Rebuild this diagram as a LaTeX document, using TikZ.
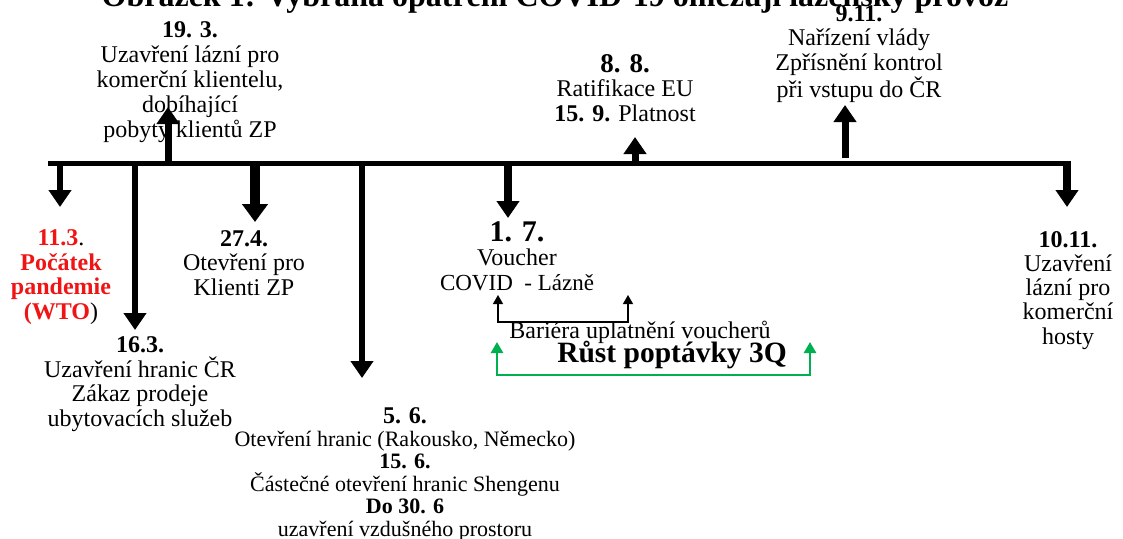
\documentclass[tikz,border=0pt]{standalone}
\usepackage{fontspec}
\setmainfont{Liberation Serif}
\usetikzlibrary{arrows.meta,positioning}

\definecolor{startred}{RGB}{240,20,20}
\definecolor{growgreen}{RGB}{0,176,80}
\newcommand{\fsz}[2]{\fontsize{#1}{#2}\selectfont}

\begin{document}
\begin{tikzpicture}[
    x=1pt,y=-1pt,
    note/.style={align=center,inner sep=0pt,anchor=base,font=\fsz{24}{24.5}},
    heading/.style={note,font=\fsz{32}{34}\bfseries},
    timeaxis/.style={line width=5pt},
    tick/.style={line width=7pt,-{Triangle[width=22pt,length=17pt]}},
    tickwide/.style={line width=10pt,-{Triangle[width=25pt,length=18pt]}},
    barbracket/.style={line width=1.2pt,{Triangle[width=10pt,length=9pt]}-{Triangle[width=10pt,length=9pt]}},
    growbracket/.style={line width=2.5pt,growgreen,
                 {Triangle[width=12pt,length=11pt]}-{Triangle[width=12pt,length=11pt]}},
]
\useasboundingbox (0,0) rectangle (1123,538);

% ---- title (cut at the top edge) ----
\node[heading] (title) at (555,6) {Obrázek 1: Vybraná opatření COVID-19 omezují lázeňský provoz};

% ---- time axis ----
\coordinate (ax0) at (48,163);
\coordinate (ax1) at (1067,163);
\draw[timeaxis] (ax0) -- (ax1);

% ---- events above the axis (anchored at the last line) ----
\node[note,font=\fsz{24}{25}] (n193) at (190,137)
     {\textbf{19. 3.}\\Uzavření lázní pro\\komerční klientelu,\\dobíhající\\pobyty klientů ZP};
\node[note] (n88) at (625,121)
     {{\fsz{27}{25}\textbf{8. 8.}}\\Ratifikace EU\\\textbf{15. 9.} Platnost};
\node[note] (n911) at (859,97)
     {\textbf{9.11.}\\Nařízení vlády\\Zpřísnění kontrol\\při vstupu do ČR};

\coordinate (t193) at (168,163);  \coordinate (p193) at (168,107);
\coordinate (t88)  at (635,163);  \coordinate (p88)  at (635,137);
\coordinate (t911) at (845,158);  \coordinate (p911) at (845,105);
\draw[tick] (t193) -- (p193);
\draw[tick] (t88)  -- (p88);
\draw[tick] (t911) -- (p911);

% ---- events below the axis ----
\node[note,font=\fsz{24}{24.5}\bfseries] (n113) at (61,319)
     {\textcolor{startred}{11.3}\mdseries.\\\textcolor{startred}{Počátek}\\\textcolor{startred}{pandemie}\\\textcolor{startred}{(WTO}\mdseries)};
\node[note,font=\fsz{24}{24.5}] (n163) at (140,426)
     {\textbf{16.3.}\\Uzavření hranic ČR\\Zákaz prodeje\\ubytovacích služeb};
\node[note] (n274) at (244,295)
     {\textbf{27.4.}\\Otevření pro\\Klienti ZP};
\node[note,font=\fsz{22}{22.5}] (n56) at (405,536)
     {{\fsz{24}{22.5}\textbf{5. 6.}}\\Otevření hranic (Rakousko, Německo)\\\textbf{15. 6.}\\Částečné otevření hranic Shengenu\\\textbf{Do 30. 6}\\uzavření vzdušného prostoru};
\node[note] (n17) at (517,290)
     {{\fsz{30}{24}\textbf{1. 7.}}\\Voucher\\{\fsz{23}{21}COVID\ \ - Lázně}};
\node[note,font=\fsz{24}{24.25}] (n1011) at (1068,344)
     {\textbf{10.11.}\\Uzavření\\lázní pro\\komerční\\hosty};

\coordinate (t113)  at (60,163);   \coordinate (p113)  at (60,207);
\coordinate (t163)  at (135,163);  \coordinate (p163)  at (135,330);
\coordinate (t274)  at (255,163);  \coordinate (p274)  at (255,222);
\coordinate (t56)   at (362,163);  \coordinate (p56)   at (362,378);
\coordinate (t17)   at (508,163);  \coordinate (p17)   at (508,218);
\coordinate (t1011) at (1067,161); \coordinate (p1011) at (1067,207);
\draw[tick,line width=6pt] (t113) -- (p113);
\draw[tick,line width=6pt] (t163) -- (p163);
\draw[tickwide] (t274) -- (p274);
\draw[tick,line width=6pt] (t56) -- (p56);
\draw[tick,line width=8pt] (t17) -- (p17);
\draw[tick,line width=8pt] (t1011) -- (p1011);

% ---- voucher barrier and demand growth ----
\coordinate (vl) at (498,295);  \coordinate (vr) at (628,295);
\coordinate (vb) at (628,322);
\draw[barbracket] (vl) |- (vb) -- (vr);
\node[note] (bar) at (640,338) {Bariéra uplatnění voucherů};

\coordinate (gl) at (497,342);  \coordinate (gr) at (810,342);
\coordinate (gb) at (810,375);
\draw[growbracket] (gl) |- (gb) -- (gr);
\node[note,font=\fsz{29.5}{30}\bfseries] (rust) at (672,362) {Růst poptávky 3Q};

\end{tikzpicture}
\end{document}
